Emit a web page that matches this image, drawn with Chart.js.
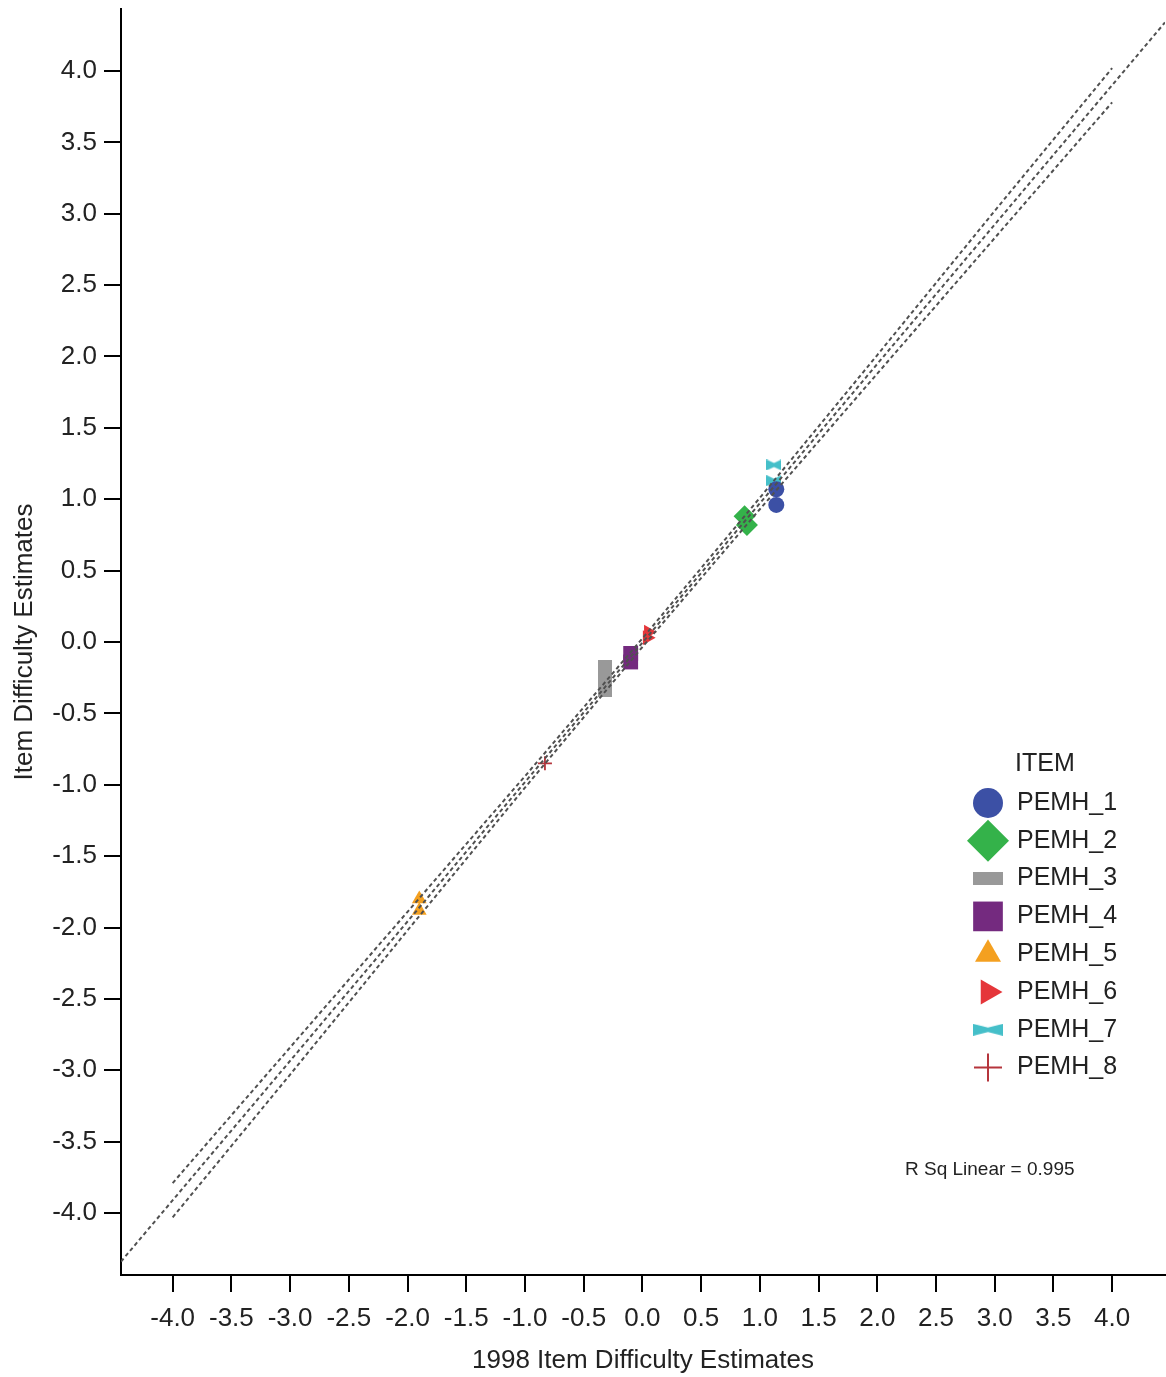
<!DOCTYPE html>
<html>
<head>
<meta charset="utf-8">
<script src="https://cdn.jsdelivr.net/npm/chart.js@4.4.1/dist/chart.umd.min.js"></script>
<style>
  html, body { margin: 0; padding: 0; background: #ffffff; }
  #wrap { width: 1166px; height: 1377px; }
</style>
</head>
<body>
<div id="wrap"><canvas id="c" width="1166" height="1377"></canvas></div>
<script>
// ---------- data ----------
const seriesNames = ['PEMH_1','PEMH_2','PEMH_3','PEMH_4','PEMH_5','PEMH_6','PEMH_7','PEMH_8'];
const pemh1X = [1.14, 1.14];          const pemh1Y = [1.07, 0.96];
const pemh2X = [0.87, 0.89];          const pemh2Y = [0.88, 0.82];
const pemh3X = [-0.32, -0.32, -0.32]; const pemh3Y = [-0.17, -0.26, -0.34];
const pemh4X = [-0.10, -0.10];        const pemh4Y = [-0.08, -0.14];
const pemh5X = [-1.90, -1.90];        const pemh5Y = [-1.80, -1.88];
const pemh6X = [0.05, 0.04];          const pemh6Y = [0.07, 0.03];
const pemh7X = [1.12, 1.12];          const pemh7Y = [1.24, 1.13];
const pemh8X = [-0.83];               const pemh8Y = [-0.85];

// fit line and confidence band
const fitX = [-4.44, 4.45];
const fitY = [-4.34, 4.34];
const bandX     = [-4, -3, -2, -1, 0, 1, 2, 3, 4];
const bandUpper = [-3.79, -2.84, -1.89, -0.94, 0.025, 1.01, 2.01, 3.02, 4.02];
const bandLower = [-4.03, -3.03, -2.02, -1.02, -0.035, 0.93, 1.88, 2.83, 3.78];

const xTickValues = [-4,-3.5,-3,-2.5,-2,-1.5,-1,-0.5,0,0.5,1,1.5,2,2.5,3,3.5,4];
const xTickLabels = ['-4.0','-3.5','-3.0','-2.5','-2.0','-1.5','-1.0','-0.5','0.0','0.5','1.0','1.5','2.0','2.5','3.0','3.5','4.0'];
const yTickValues = [-4,-3.5,-3,-2.5,-2,-1.5,-1,-0.5,0,0.5,1,1.5,2,2.5,3,3.5,4];
const yTickLabels = ['-4.0','-3.5','-3.0','-2.5','-2.0','-1.5','-1.0','-0.5','0.0','0.5','1.0','1.5','2.0','2.5','3.0','3.5','4.0'];

const xTitle = '1998 Item Difficulty Estimates';
const yTitle = 'Item Difficulty Estimates';
const legendTitle = 'ITEM';
const rsqText = 'R Sq Linear = 0.995';

// ---------- styling ----------
const FONT = "'Liberation Sans', Arial, 'DejaVu Sans', sans-serif";
const TXT = '#222222';
const colors = ['#3C50A5','#34B24A','#999999','#742A7F','#F4A020','#E5363A','#45BFC9','#B5353C'];

function rectCanvas(w, h, color) {
  const c = document.createElement('canvas');
  c.width = w; c.height = h;
  const g = c.getContext('2d');
  g.fillStyle = color; g.fillRect(0, 0, w, h);
  return c;
}
function bowtieCanvas(w, h, color) {
  const c = document.createElement('canvas');
  c.width = w; c.height = h;
  const g = c.getContext('2d');
  g.fillStyle = color;
  g.beginPath();
  g.moveTo(0, 0); g.lineTo(w/2, h*0.32); g.lineTo(w, 0);
  g.lineTo(w, h); g.lineTo(w/2, h*0.68); g.lineTo(0, h);
  g.closePath(); g.fill();
  return c;
}

const chartStyles = [
  { pointStyle: 'circle',  radius: 8,   rotation: 0 },
  { pointStyle: 'rectRot', radius: 11,  rotation: 0 },
  { pointStyle: rectCanvas(14, 13, colors[2]), radius: 8, rotation: 0 },
  { pointStyle: 'rect',    radius: 10.5,rotation: 0 },
  { pointStyle: 'triangle',radius: 8.5, rotation: 0 },
  { pointStyle: 'triangle',radius: 8.5, rotation: 90 },
  { pointStyle: bowtieCanvas(15, 11, colors[6]), radius: 8, rotation: 0 },
  { pointStyle: 'cross',   radius: 7,   rotation: 0 }
];
const legendStyles = [
  { pointStyle: 'circle',  radius: 15,   rotation: 0 },
  { pointStyle: 'rectRot', radius: 21,   rotation: 0 },
  { pointStyle: rectCanvas(30, 13, colors[2]), radius: 15, rotation: 0 },
  { pointStyle: 'rect',    radius: 21,   rotation: 0 },
  { pointStyle: 'triangle',radius: 15,   rotation: 0 },
  { pointStyle: 'triangle',radius: 14.5, rotation: 90 },
  { pointStyle: bowtieCanvas(30, 12, colors[6]), radius: 15, rotation: 0 },
  { pointStyle: 'cross',   radius: 14,   rotation: 0 }
];

const seriesX = [pemh1X, pemh2X, pemh3X, pemh4X, pemh5X, pemh6X, pemh7X, pemh8X];
const seriesY = [pemh1Y, pemh2Y, pemh3Y, pemh4Y, pemh5Y, pemh6Y, pemh7Y, pemh8Y];

const zip = (xs, ys) => xs.map((x, i) => ({ x: x, y: ys[i] }));

const lineCommon = {
  showLine: true, pointRadius: 0, pointHoverRadius: 0, fill: false,
  borderColor: '#505050', borderWidth: 2, borderDash: [4, 3], tension: 0, order: 0
};

const datasets = [
  Object.assign({ label: 'fit', data: zip(fitX, fitY) }, lineCommon),
  Object.assign({ label: 'upper', data: zip(bandX, bandUpper) }, lineCommon),
  Object.assign({ label: 'lower', data: zip(bandX, bandLower) }, lineCommon)
];
seriesNames.forEach((name, i) => {
  const st = chartStyles[i];
  const isCross = st.pointStyle === 'cross';
  datasets.push({
    label: name,
    data: zip(seriesX[i], seriesY[i]),
    showLine: false,
    pointStyle: st.pointStyle,
    pointRadius: st.radius,
    pointHoverRadius: st.radius,
    pointRotation: st.rotation,
    backgroundColor: colors[i],
    borderColor: colors[i],
    pointBorderWidth: isCross ? 1.8 : 0,
    order: 1
  });
});

function drawMarker(ctx, st, color, x, y) {
  ctx.save();
  ctx.fillStyle = color;
  ctx.strokeStyle = color;
  ctx.lineWidth = st.pointStyle === 'cross' ? 2 : 0.01;
  if (Chart.helpers && Chart.helpers.drawPoint) {
    Chart.helpers.drawPoint(ctx, {
      pointStyle: st.pointStyle, radius: st.radius, rotation: st.rotation,
      borderWidth: st.pointStyle === 'cross' ? 2 : 0
    }, x, y);
  }
  ctx.restore();
}

const legendPlugin = {
  id: 'customLegend',
  afterDraw(chart) {
    const ctx = chart.ctx;
    ctx.save();
    ctx.fillStyle = TXT;
    ctx.font = '25px ' + FONT;
    ctx.textAlign = 'left';
    ctx.textBaseline = 'middle';
    ctx.fillText(legendTitle, 1015, 764);
    const x0 = 988, y0 = 803, dy = 37.8;
    seriesNames.forEach((name, i) => {
      const y = y0 + i * dy;
      drawMarker(ctx, legendStyles[i], colors[i], x0, y);
      ctx.fillStyle = TXT;
      ctx.font = '25px ' + FONT;
      ctx.textAlign = 'left';
      ctx.textBaseline = 'middle';
      ctx.fillText(name, 1017, y);
    });
    ctx.font = '19px ' + FONT;
    ctx.fillStyle = TXT;
    ctx.fillText(rsqText, 905, 1170);
    ctx.restore();
  }
};

const tickFont = { family: FONT, size: 26 };

new Chart(document.getElementById('c'), {
  type: 'scatter',
  data: { datasets: datasets },
  plugins: [legendPlugin],
  options: {
    responsive: false,
    devicePixelRatio: 1,
    animation: false,
    events: [],
    layout: { autoPadding: false, padding: { left: 0, right: 1, top: 9, bottom: 0 } },
    plugins: { legend: { display: false }, tooltip: { enabled: false } },
    scales: {
      x: {
        type: 'linear', position: 'bottom', min: -4.44, max: 4.45,
        afterBuildTicks: (s) => { s.ticks = xTickValues.map(v => ({ value: v })); },
        afterFit: (s) => { s.height = 102; s.paddingLeft = 0; s.paddingRight = 0; },
        ticks: {
          autoSkip: false, maxRotation: 0, minRotation: 0, padding: 11,
          color: TXT, font: tickFont,
          callback: (v) => xTickLabels[xTickValues.indexOf(v)]
        },
        grid: { display: true, drawOnChartArea: false, drawTicks: true, tickLength: 17, color: '#000', lineWidth: 2 },
        border: { display: true, color: '#000', width: 2 },
        title: { display: true, text: xTitle, color: TXT, font: { family: FONT, size: 26 }, padding: { top: 0, bottom: 1 } }
      },
      y: {
        type: 'linear', position: 'left', min: -4.434, max: 4.434,
        afterBuildTicks: (s) => { s.ticks = yTickValues.map(v => ({ value: v })); },
        afterFit: (s) => { s.width = 121; s.paddingTop = 0; s.paddingBottom = 0; },
        ticks: {
          autoSkip: false, padding: 7,
          color: TXT, font: tickFont,
          callback: (v) => yTickLabels[yTickValues.indexOf(v)]
        },
        grid: { display: true, drawOnChartArea: false, drawTicks: true, tickLength: 17, color: '#000', lineWidth: 2 },
        border: { display: true, color: '#000', width: 2 },
        title: { display: true, text: yTitle, color: TXT, font: { family: FONT, size: 26 }, padding: { top: 9, bottom: 0 } }
      }
    }
  }
});
</script>
</body>
</html>
